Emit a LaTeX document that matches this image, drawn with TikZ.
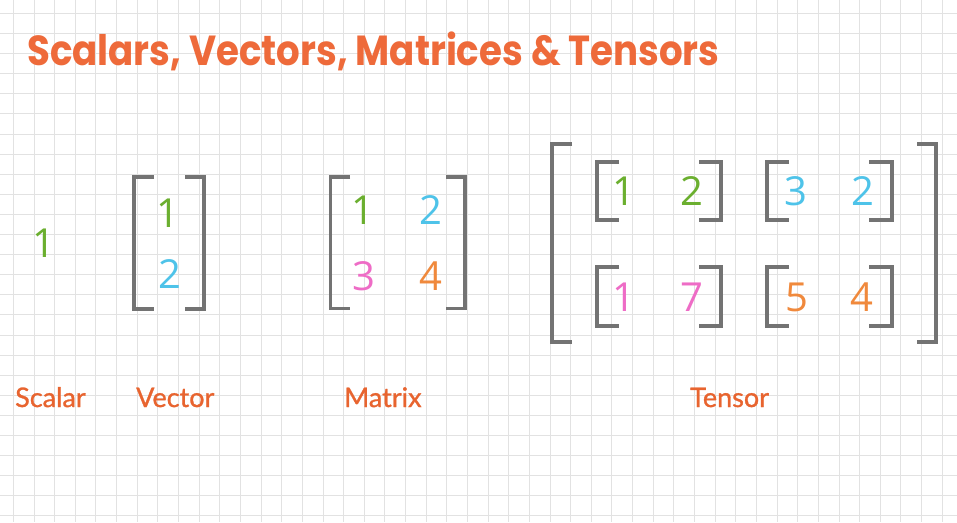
\documentclass[tikz,border=0pt]{standalone}
\usepackage{fontspec}
\newfontfamily\titlefont{Poppins}
\newfontfamily\labelfont{Lato}[FakeBold=1]
\newfontfamily\digitfont{Open Sans}
\definecolor{gridc}{HTML}{E2E2E2}
\definecolor{titlec}{HTML}{EE6A3A}
\definecolor{labelc}{HTML}{E8642F}
\definecolor{brk}{HTML}{737373}
\definecolor{dgreen}{HTML}{6BAF2F}
\definecolor{dblue}{HTML}{4EC3E9}
\definecolor{dpink}{HTML}{EE6CC6}
\definecolor{dorange}{HTML}{F0893C}
\tikzset{
  gridline/.style={draw=gridc, line width=0.8pt},
  bracket/.style={draw=brk, line width=3.3pt, line cap=butt, line join=miter},
  digit/.style={anchor=base, inner sep=0pt, font=\digitfont\fontsize{40}{40}\selectfont},
  lbl/.style={anchor=base west, inner sep=0pt, text=labelc, font=\labelfont\fontsize{27}{27}\selectfont},
}
\begin{document}
\begin{tikzpicture}[x=1pt,y=-1pt]
\useasboundingbox (0,0) rectangle (957,522);
\fill[white] (0,0) rectangle (957,522);
% grid
\foreach \i in {0,...,45} {
  \draw[gridline] ({13.3+20.64*\i},0) -- ({13.3+20.64*\i},522);
}
\foreach \j in {0,...,25} {
  \draw[gridline] (0,{13.3+20.1*\j}) -- (957,{13.3+20.1*\j});
}
% title
\node[anchor=base west, inner sep=0pt, text=titlec] (title) at (27,65)
  {\scalebox{0.885}[1]{\titlefont\bfseries\fontsize{42}{42}\selectfont Scalars, Vectors, Matrices \& Tensors}};
% scalar
\node[digit, text=dgreen] (s1) at (44,257) {1};
% vector
\draw[bracket] (154,177) -- (134,177) -- (134,309) -- (154,309);
\draw[bracket] (185,177) -- (204,177) -- (204,309) -- (185,309);
\node[digit, text=dgreen] (v1) at (168,227) {1};
\node[digit, text=dblue] (v2) at (170,288) {2};
% matrix
\draw[bracket] (350,177) -- (330.7,177) -- (330.7,308.5) -- (350,308.5);
\draw[bracket] (446,177) -- (465,177) -- (465,308.5) -- (446,308.5);
\node[digit, text=dgreen] (m11) at (363,224) {1};
\node[digit, text=dblue] (m12) at (431,224) {2};
\node[digit, text=dpink] (m21) at (364,290) {3};
\node[digit, text=dorange] (m22) at (431,290) {4};
% tensor outer
\draw[bracket] (572,144) -- (552,144) -- (552,342) -- (572,342);
\draw[bracket] (917,144) -- (936,144) -- (936,342) -- (917,342);
% tensor inner
\foreach \ya/\yb in {162/220, 267/326} {
  \draw[bracket] (619,\ya) -- (597,\ya) -- (597,\yb) -- (619,\yb);
  \draw[bracket] (699,\ya) -- (721,\ya) -- (721,\yb) -- (699,\yb);
  \draw[bracket] (789,\ya) -- (767,\ya) -- (767,\yb) -- (789,\yb);
  \draw[bracket] (869,\ya) -- (892,\ya) -- (892,\yb) -- (869,\yb);
}
\node[digit, text=dgreen] (t111) at (624,205) {1};
\node[digit, text=dgreen] (t112) at (692,205) {2};
\node[digit, text=dblue] (t121) at (796,205) {3};
\node[digit, text=dblue] (t122) at (863,205) {2};
\node[digit, text=dpink] (t211) at (624,311.5) {1};
\node[digit, text=dpink] (t212) at (692,311.5) {7};
\node[digit, text=dorange] (t221) at (797,311.5) {5};
\node[digit, text=dorange] (t222) at (862,311.5) {4};
% labels
\node[lbl] (lscalar) at (15,407) {Scalar};
\node[lbl] (lvector) at (136,407) {Vector};
\node[lbl] (lmatrix) at (344,407) {Matrix};
\node[lbl] (ltensor) at (690,407) {Tensor};
\end{tikzpicture}
\end{document}
